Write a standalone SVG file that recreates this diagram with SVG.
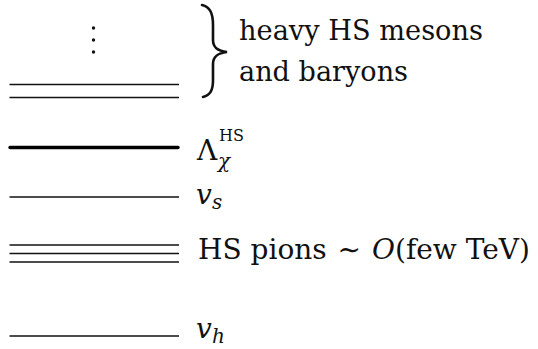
<svg xmlns="http://www.w3.org/2000/svg" width="538" height="349" viewBox="0 0 538 349">
  <style>
    .lvl { stroke: #111; stroke-width: 1.7; fill: none; }
    .thick { stroke: #000; stroke-width: 3.3; fill: none; stroke-linecap: round; }
    .t { font-family: "DejaVu Serif", "Liberation Serif", serif; font-size: 28px; fill: #111; }
    .it { font-style: italic; }
    .sub { font-size: 20px; }
    .sup { font-size: 16px; }
  </style>
  <rect width="538" height="349" fill="#fff"/>
  <g id="dots" fill="#111">
    <circle cx="93.5" cy="28" r="1.7"/>
    <circle cx="93.5" cy="40" r="1.7"/>
    <circle cx="93.5" cy="52" r="1.7"/>
  </g>
  <g id="heavy">
    <line class="lvl" x1="9.5" y1="84.5" x2="179" y2="84.5"/>
    <line class="lvl" x1="9.5" y1="97.5" x2="179" y2="97.5"/>
    <text class="t" x="239" y="40" textLength="244" lengthAdjust="spacingAndGlyphs">heavy HS mesons</text>
    <text class="t" x="239" y="81" textLength="169" lengthAdjust="spacingAndGlyphs">and baryons</text>
  </g>
  <g id="connectors">
    <path d="M202,5 C210,7 213,13 213,25 L213,40 C213,48 218,51 227,52 C218,53 213,56 213,64 L213,80 C213,91 210,95 203,97" fill="none" stroke="#111" stroke-width="2.6" stroke-linecap="round"/>
  </g>
  <g id="lambda">
    <line class="thick" x1="10" y1="147.5" x2="178" y2="147.5"/>
    <text class="t" x="197" y="160">Λ</text>
    <text class="t sup" x="219" y="141">HS</text>
    <text class="t it sub" x="218" y="168">χ</text>
  </g>
  <g id="vs">
    <line class="lvl" x1="9.5" y1="197" x2="179" y2="197"/>
    <text class="t it" x="196" y="204">v</text>
    <text class="t it sub" x="212" y="209">s</text>
  </g>
  <g id="pions">
    <line class="lvl" x1="9.5" y1="245" x2="179" y2="245"/>
    <line class="lvl" x1="9.5" y1="253.5" x2="179" y2="253.5"/>
    <line class="lvl" x1="9.5" y1="262" x2="179" y2="262"/>
    <text class="t" x="198" y="259" textLength="332" lengthAdjust="spacingAndGlyphs">HS pions <tspan dx="2">∼</tspan> <tspan class="it" dx="2">O</tspan>(few TeV)</text>
  </g>
  <g id="vh">
    <line class="lvl" x1="9.5" y1="336" x2="179" y2="336"/>
    <text class="t it" x="196" y="338">v</text>
    <text class="t it sub" x="212" y="343">h</text>
  </g>
</svg>
